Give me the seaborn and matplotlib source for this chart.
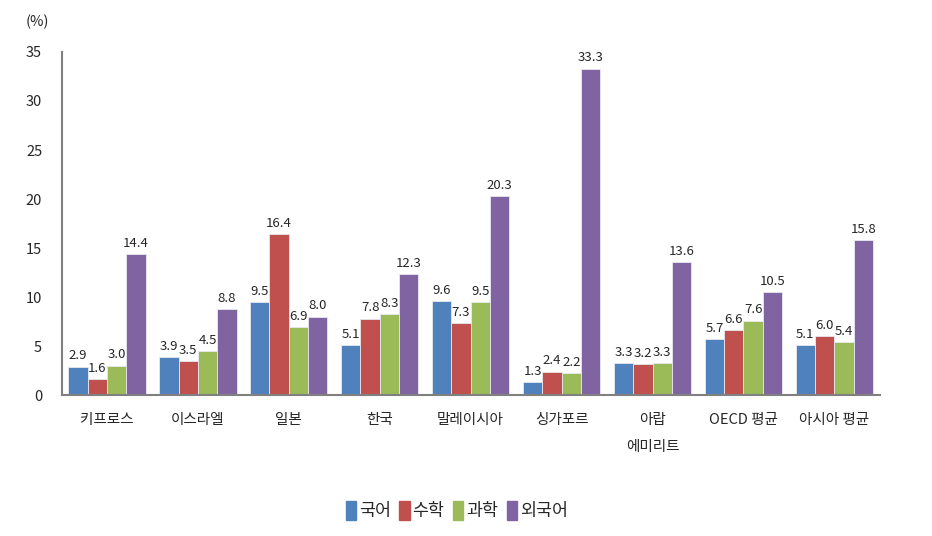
import matplotlib
matplotlib.use("Agg")
import matplotlib.pyplot as plt
import seaborn as sns
import pandas as pd

categories = ["키프로스", "이스라엘", "일본", "한국", "말레이시아", "싱가포르",
              "아랍\n에미리트", "OECD 평균", "아시아 평균"]
subjects = ["국어", "수학", "과학", "외국어"]
korean = [2.9, 3.9, 9.5, 5.1, 9.6, 1.3, 3.3, 5.7, 5.1]
math = [1.6, 3.5, 16.4, 7.8, 7.3, 2.4, 3.2, 6.6, 6.0]
science = [3.0, 4.5, 6.9, 8.3, 9.5, 2.2, 3.3, 7.6, 5.4]
foreign = [14.4, 8.8, 8.0, 12.3, 20.3, 33.3, 13.6, 10.5, 15.8]
colors = ["#4F81BD", "#C0504D", "#9BBB59", "#8064A2"]

rows = []
for subj, vals in zip(subjects, [korean, math, science, foreign]):
    for cat, v in zip(categories, vals):
        rows.append({"국가": cat, "과목": subj, "비율": v})
df = pd.DataFrame(rows)

sns.set_style("white")
plt.rcParams["font.family"] = ["Noto Sans CJK KR", "DejaVu Sans"]

fig, ax = plt.subplots(figsize=(9.32, 5.36), dpi=100)
fig.subplots_adjust(left=0.066, right=0.944, bottom=0.263, top=0.903)

sns.barplot(data=df, x="국가", y="비율", hue="과목", palette=colors, saturation=1,
            width=0.85, edgecolor="#e8e8f0", linewidth=0.6, ax=ax, legend=False)

for cont in ax.containers:
    ax.bar_label(cont, fmt="%.1f", fontsize=9.5, padding=3)

ax.set_ylim(0, 35)
ax.set_yticks(range(0, 36, 5))
ax.set_xlim(-0.5, len(categories) - 0.5)
ax.set_xlabel("")
ax.set_ylabel("")
ax.tick_params(axis="both", length=0, labelsize=10.5)
ax.tick_params(axis="y", pad=14)
ax.tick_params(axis="x", pad=13)
for lab in ax.get_xticklabels():
    lab.set_linespacing(2.2)
    lab.set_verticalalignment("top")
for s in ["top", "right"]:
    ax.spines[s].set_visible(False)
for s in ["left", "bottom"]:
    ax.spines[s].set_color("#808080")
    ax.spines[s].set_linewidth(1.5)

fig.text(0.027, 0.96, "(%)", fontsize=10.5, va="center", ha="left")

handles = [plt.Rectangle((0, 0), 1, 1, color=c) for c in colors]
fig.legend(handles, subjects, loc="center", bbox_to_anchor=(0.49, 0.047), ncol=4,
           frameon=False, handlelength=0.6, handleheight=1.3, handletextpad=0.15,
           columnspacing=0.5, fontsize=12.5)

fig.savefig("out.png", dpi=100)
